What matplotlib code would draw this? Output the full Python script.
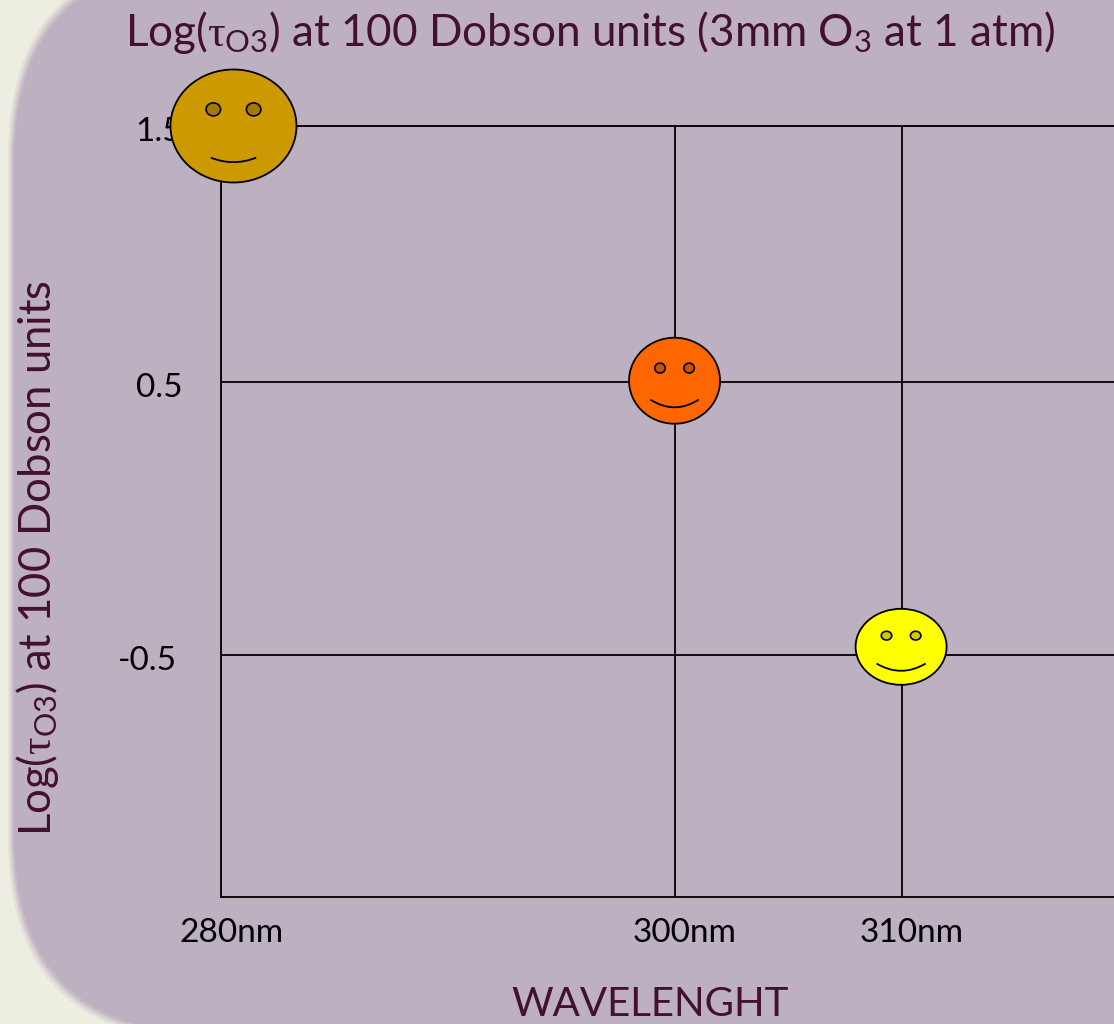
import numpy as np
from matplotlib import pyplot as plt
from matplotlib.patches import Ellipse, FancyBboxPatch, PathPatch
from matplotlib.path import Path
from matplotlib.transforms import ScaledTranslation

W, H = 1114, 1024

plt.rcParams['font.family'] = ['Lato', 'DejaVu Sans']
plt.rcParams['mathtext.fontset'] = 'custom'
plt.rcParams['mathtext.rm'] = 'Lato'
plt.rcParams['mathtext.it'] = 'Liberation Serif'
plt.rcParams['mathtext.default'] = 'rm'

wavelengths = [280, 300, 310]
wavelength_labels = ['280nm', '300nm', '310nm']
log_ticks = [1.5, 0.5, -0.5]
log_labels = ['1.5', '0.5', '-0.5']

face_wavelength = [280.55, 299.98, 309.96]
face_log = [1.5, 0.505, -0.47]
face_colors = ['#CC9900', '#FF6600', '#FFFF00']
eye_colors = ['#A37A00', '#CC5200', '#CCCC00']
face_w = [126, 91, 91]
face_h = [113, 86, 76]
smile_half = [0.18, 0.265, 0.27]
smile_top = [0.28, 0.22, 0.22]
smile_bottom = [0.32, 0.31, 0.316]

text_color = '#44102F'
line_w = 1.3

# the y ticks are not evenly spaced in the original
scale_vals = [-1.386, -0.5, 0.5, 1.5]
scale_pos = [0, 242, 515, 771]


def y_forward(v):
    return np.interp(v, scale_vals, scale_pos)


def y_inverse(p):
    return np.interp(p, scale_pos, scale_vals)


def draw_face(over, cx, cy, i):
    w, h = face_w[i], face_h[i]
    over.add_patch(Ellipse((cx, cy), w, h, fc=face_colors[i], ec='black', lw=line_w, zorder=5))
    for side in (-1, 1):
        over.add_patch(Ellipse((cx + side * 0.16 * w, cy - 0.147 * h), 0.115 * w, 0.115 * h,
                               fc=eye_colors[i], ec='black', lw=1.2, zorder=6))
    half = smile_half[i] * w
    top = cy + smile_top[i] * h
    ctrl = top + 2 * (smile_bottom[i] - smile_top[i]) * h
    verts = [(cx - half, top), (cx, ctrl), (cx + half, top)]
    over.add_patch(PathPatch(Path(verts, [Path.MOVETO, Path.CURVE3, Path.CURVE3]),
                             fc='none', ec='black', lw=1.3, zorder=6))


fig = plt.figure(figsize=(W / 100, H / 100), dpi=100, facecolor='#EEEDE1')

back = fig.add_axes([0, 0, 1, 1], zorder=0)
back.set_xlim(0, W)
back.set_ylim(H, 0)
back.axis('off')
# a few see-through layers give the soft panel edge
for grow, alpha in [(4, 0.2), (2, 0.35), (0, 0.6), (-2, 1.0)]:
    back.add_patch(FancyBboxPatch((12, -40), 1400, 1076,
                                  boxstyle=f'round,pad={grow},rounding_size=200',
                                  fc='#BCB0C1', ec='none', alpha=alpha))

ax = fig.add_axes([221 / W, 1 - 897 / H, 893 / W, 771 / H], zorder=1)
ax.patch.set_visible(False)
ax.set_yscale('function', functions=(y_forward, y_inverse))
ax.set_xlim(280, 280 + 893 / 22.7)
ax.set_ylim(-1.386, 1.5)
ax.set_xticks(wavelengths, wavelength_labels)
ax.set_yticks(log_ticks, log_labels)
ax.minorticks_off()
ax.grid(True, color='black', lw=line_w)
ax.set_axisbelow(True)
ax.spines['right'].set_visible(False)
for spine in ['left', 'bottom', 'top']:
    ax.spines[spine].set_linewidth(line_w)
ax.tick_params(length=0, labelsize=24, labelcolor='black')
ax.tick_params(axis='x', pad=15)
ax.tick_params(axis='y', pad=28)
shift_x = ScaledTranslation(10 / 100, 0, fig.dpi_scale_trans)
for label in ax.get_xticklabels():
    label.set_transform(label.get_transform() + shift_x)
shift_y = ScaledTranslation(0, -3 / 100, fig.dpi_scale_trans)
for label in ax.get_yticklabels():
    label.set_transform(label.get_transform() + shift_y)
# the last label sits a little further left in the original
neg_label = ax.get_yticklabels()[-1]
neg_label.set_transform(neg_label.get_transform() + ScaledTranslation(-5 / 100, 0, fig.dpi_scale_trans))

over = fig.add_axes([0, 0, 1, 1], zorder=2)
over.set_xlim(0, W)
over.set_ylim(H, 0)
over.axis('off')
fig.canvas.draw()
for i in range(len(face_log)):
    pt = ax.transData.transform((face_wavelength[i], face_log[i]))
    cx, cy = over.transData.inverted().transform(pt)
    draw_face(over, cx, cy, i)

fig.text(590 / W, 1 - 33 / H, r'Log($\mathit{\tau}_{\mathrm{O3}}$) at 100 Dobson units (3mm O$_{3}$ at 1 atm)',
         fontsize=31.7, color=text_color, ha='center', va='center')
fig.text(38 / W, 1 - 558 / H, r'Log($\mathit{\tau}_{\mathrm{O3}}$) at 100 Dobson units',
         fontsize=31.4, color=text_color, ha='center', va='center', rotation=90)
fig.text(650 / W, 1 - 1005 / H, 'WAVELENGHT', fontsize=29, color=text_color, ha='center', va='center')

fig.savefig('out.png', dpi=100, facecolor=fig.get_facecolor())
